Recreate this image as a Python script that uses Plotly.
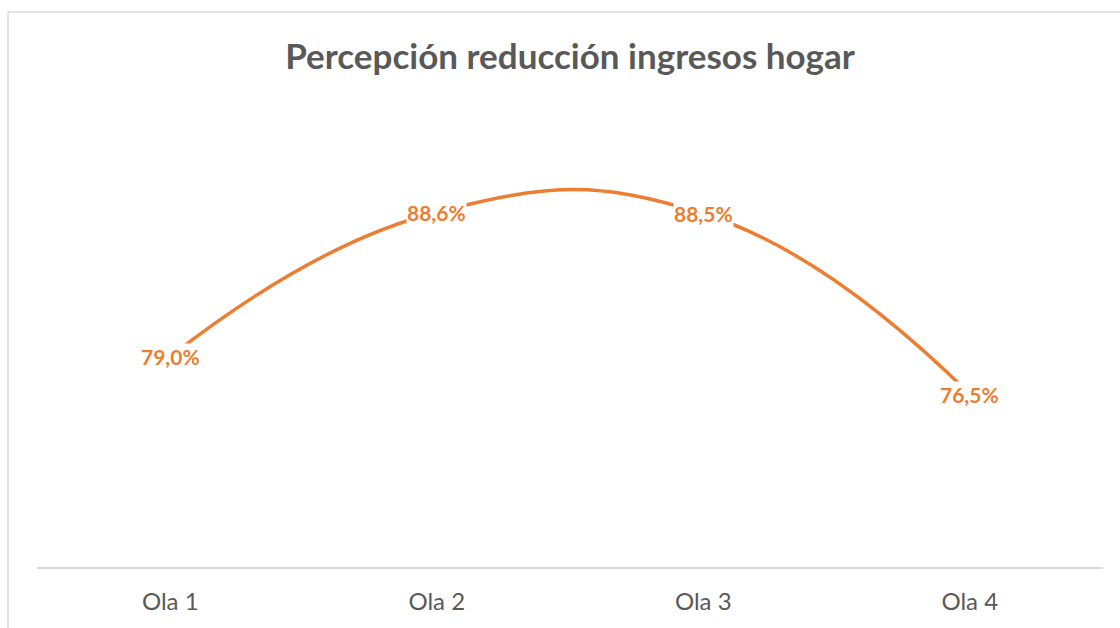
import plotly.graph_objects as go

categories = ["Ola 1", "Ola 2", "Ola 3", "Ola 4"]
values = [79.0, 88.6, 88.5, 76.5]
title_text = "Percepción reducción ingresos hogar"
labels = [f"{v:.1f}%".replace(".", ",") for v in values]

ORANGE = "#ED7D31"
GRAY = "#595959"

fig = go.Figure()
fig.add_trace(go.Scatter(
    x=categories, y=values, mode="lines",
    line=dict(color=ORANGE, width=3.5, shape="spline", smoothing=1.3),
    hoverinfo="skip", showlegend=False,
))

for c, v, t in zip(categories, values, labels):
    fig.add_annotation(
        x=c, y=v, text=f"<b>{t}</b>", showarrow=False,
        font=dict(family="Lato", size=21, color=ORANGE),
        bgcolor="white", borderpad=0, xanchor="center", yanchor="middle",
    )

fig.update_layout(
    width=1120, height=628,
    margin=dict(l=37, r=17, t=116, b=61),
    paper_bgcolor="white", plot_bgcolor="white",
    title=dict(text=f"<b>{title_text}</b>", x=570 / 1120, xanchor="center",
               y=1 - 57 / 628, yanchor="middle",
               font=dict(family="Lato", size=35, color=GRAY)),
    xaxis=dict(showgrid=False, zeroline=False, showline=True, linecolor="#D9D9D9",
               linewidth=1.5, ticks="", range=[-0.5, 3.5], ticklabelstandoff=12,
               tickfont=dict(family="Lato", size=24, color=GRAY)),
    yaxis=dict(visible=False, range=[65, 95]),
    shapes=[dict(type="rect", xref="paper", yref="paper",
                 x0=(8 - 37) / 1066, x1=1.1, y0=-0.3, y1=1 + (116 - 12) / 451,
                 line=dict(color="#D9D9D9", width=1.5), fillcolor="rgba(0,0,0,0)",
                 layer="below")],
)

fig.write_html("out.html", config={"displayModeBar": False},
               post_script="document.body.style.margin='0';document.body.style.overflow='hidden';")
